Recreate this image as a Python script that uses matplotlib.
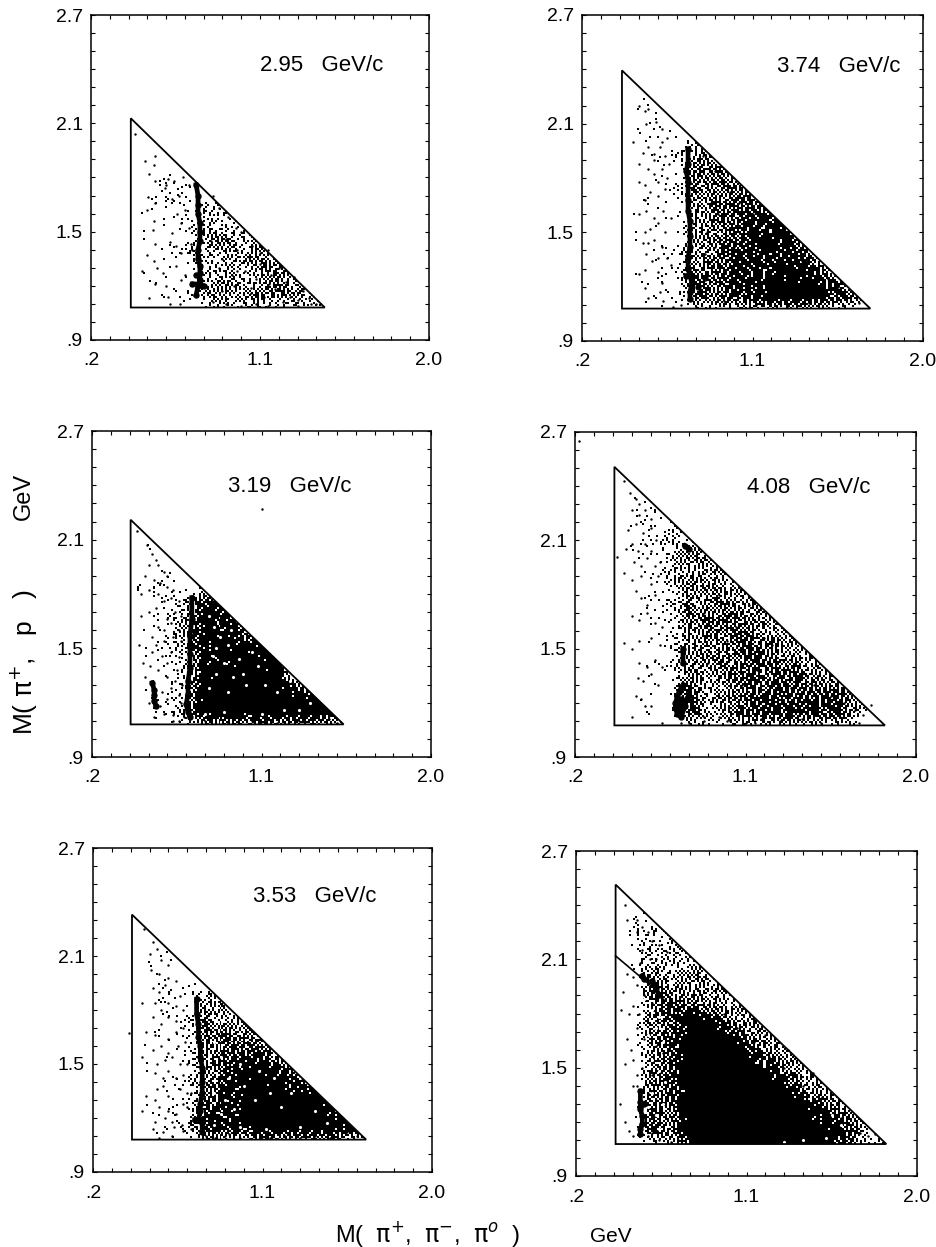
import numpy as np
import matplotlib
matplotlib.use('Agg')
import matplotlib.pyplot as plt
from matplotlib.patches import Polygon

plt.rcParams['font.family'] = ['Liberation Sans', 'DejaVu Sans']
plt.rcParams['mathtext.fontset'] = 'dejavusans'

W, H = 936, 1247
nan = float('nan')

# density maps read by eye, 0 empty to 9 solid black
# columns are x = 0.4 ... 1.9, rows run from y = 2.55 down to 1.15, last row y = 1.07
density_x = [0.4, 0.5, 0.6, 0.7, 0.8, 0.9, 1.0, 1.1, 1.2, 1.3, 1.4, 1.5, 1.6, 1.7, 1.8, 1.9]
density_y = [2.55, 2.45, 2.35, 2.25, 2.15, 2.05, 1.95, 1.85, 1.75, 1.65, 1.55, 1.45, 1.35, 1.25, 1.15, 1.07]

density_295 = ["0000000000000000", "0000000000000000", "0000000000000000", "0000000000000000",
               "0000000000000000", "0000000000000000", "0000000000000000", "0110000000000000",
               "0121100000000000", "0122330000000000", "0112333000000000", "0112353510000000",
               "0112334541000000", "0111343453300000", "0112454554410000", "0001223222220000"]
density_374 = ["0000000000000000", "0000000000000000", "0000000000000000", "0100000000000000",
               "0110000000000000", "0121100000000000", "0112440000000000", "0112655000000000",
               "0112565500000000", "0111456662000000", "0111456777300000", "0111446787330000",
               "0112457778633000", "0112657788863000", "0112657799986410", "0011323333332100"]
density_319 = ["0000000000000000", "0000000000000000", "0000000000000000", "0000000000000000",
               "0000000000000000", "0100000000000000", "0110000000000000", "0222200000000000",
               "0123770000000000", "0124877000000000", "0124887700000000", "0123889880000000",
               "0113898980000000", "0113999998800000", "0125999999962000", "0012444444430000"]
density_408 = ["0000000000000000", "0000000000000000", "0110000000000000", "0122000000000000",
               "0122220000000000", "0123444000000000", "0113444400000000", "0113544440000000",
               "0022555444000000", "0012556544400000", "0012455654440000", "0012445665444000",
               "0011545666644400", "0011734666666441", "0111735677777410", "0001222333333210"]
density_353 = ["0000000000000000", "0000000000000000", "0000000000000000", "0000000000000000",
               "0011000000000000", "0110000000000000", "0121100000000000", "0122440000000000",
               "0112544000000000", "0112565500000000", "0112467655000000", "0112468876000000",
               "0112578998760000", "0112678999976000", "0113878999997200", "0012433444443210"]
density_mix = ["0000000000000000", "0000000000000000", "0110000000000000", "0233000000000000",
               "0233300000000000", "0243440000000000", "0064444000000000", "0056644400000000",
               "0155995444000000", "0056999644400000", "0056999964440000", "0056999996444000",
               "0056999999644400", "0065999999975440", "0165999999998510", "0023699999986431"]

# share of ink for each density step
ink_levels = [0, 0.03, 0.10, 0.25, 0.42, 0.58, 0.72, 0.85, 0.95, 1]

# scrambled threshold tile used to print the density as black and white specks
speck_tile = [[23, 7, 41, 15, 33, 2, 47],
              [36, 12, 28, 49, 10, 26, 18],
              [4, 44, 19, 6, 38, 21, 31],
              [30, 16, 35, 24, 45, 13, 40],
              [48, 9, 1, 42, 17, 29, 5],
              [20, 37, 27, 11, 34, 8, 43],
              [14, 25, 46, 3, 22, 39, 32]]
# shifts that stop the tile from lining up
column_shifts = [0, 3, 5, 1, 6, 2, 4, 6, 1, 3, 0, 5, 2]
row_shifts = [0, 17, 5, 29, 11, 40, 23, 8, 34, 14, 46, 2, 27, 19, 37, 9, 31, 44, 6, 21, 38, 12, 25, 42, 3, 16, 33]

# vertices: left edge, bottom edge, apex height, right tip
tri_295 = [0.412, 1.08, 2.128, 1.445]
tri_374 = [0.411, 1.079, 2.394, 1.722]
tri_319 = [0.405, 1.08, 2.21, 1.536]
tri_408 = [0.408, 1.075, 2.507, 1.836]
tri_353 = [0.407, 1.08, 2.33, 1.65]
tri_mix = [0.409, 1.077, 2.514, 1.838]

# heavy vertical band and clumps, nan breaks the line
band_295_x = [.76, .77, .77, .77, .78, .78, .78, .77, .77, .78, .78, .78, .77, .76, nan, .74, .78, .80, nan, .76]
band_295_y = [1.76, 1.70, 1.65, 1.60, 1.55, 1.50, 1.45, 1.40, 1.35, 1.31, 1.27, 1.23, 1.20, 1.15, nan, 1.21, 1.21, 1.20, nan, 1.26]
band_374_x = [.76, .76, .75, .76, .76, .76, .77, .77, .77, .76, .76, .77, .78, .77, .77, nan, .75, .78, nan, .85, nan, .81]
band_374_y = [1.96, 1.88, 1.84, 1.78, 1.68, 1.62, 1.56, 1.48, 1.42, 1.36, 1.30, 1.26, 1.22, 1.17, 1.13, nan, 1.26, 1.26, nan, 1.25, nan, 1.20]
band_319_x = [.52, .53, .53, .53, .54, nan, .73, .73, .72, .72, .72, .71, .71, .70, .71, .72]
band_319_y = [1.31, 1.27, 1.24, 1.21, 1.18, nan, 1.78, 1.66, 1.57, 1.47, 1.39, 1.32, 1.25, 1.19, 1.15, 1.12]
band_408_x = [.77, .76, .75, .74, .73, .73, .74, .76, .78, .76, .75, .80, nan, .77, .77, nan, .78, .80]
band_408_y = [1.30, 1.28, 1.26, 1.23, 1.20, 1.17, 1.14, 1.12, 1.18, 1.22, 1.16, 1.24, nan, 1.42, 1.50, nan, 2.07, 2.05]
band_353_x = [.75, .75, .76, .76, .77, .77, .78, .78, .78, .77, .77, .76, .78, .78, nan, .74, .78]
band_353_y = [1.86, 1.78, 1.72, 1.65, 1.60, 1.54, 1.48, 1.40, 1.34, 1.28, 1.24, 1.19, 1.17, 1.12, nan, 1.19, 1.19]
band_mix_x = [.54, .54, .54, .55, .55, .54, .54, nan, .60, .62, .64, nan, .55, .56, nan, .54, .56]
band_mix_y = [1.37, 1.31, 1.27, 1.23, 1.19, 1.16, 1.13, nan, 1.98, 1.94, 1.90, nan, 2.01, 1.99, nan, 1.28, 1.30]

# single events in the thin parts of each plot
dots_295_x = [.435, .54, .49, .535, .51, .54, .595, .61, .64, .69, .72, .505, .50, .54, .535, .53, .54, .50, .535, .47,
              .55, .585, .54, .51, .60, .61, .62, .675, .63, .66, .68, .63, .655, .62, .68, .73, .655, .68, .60, .67,
              .70, .72, .74, .70, .85, .88, .93, .97, 1.00, 1.06, .86, .92, .98, 1.04, 1.10, 1.14, 1.20, .88, .95,
              1.02, 1.08, 1.16, 1.24, 1.28, 1.33, 1.36, 1.40, .90, .96, 1.05, 1.12, 1.18, 1.26, 1.30, .85, .92, 1.00,
              1.08, 1.14, 1.22, 1.30, 1.37, .84, .90, 1.10, 1.15, 1.05, .98]
dots_295_y = [2.04, 1.92, 1.89, 1.87, 1.82, 1.78, 1.74, 1.79, 1.78, 1.80, 1.76, 1.69, 1.62, 1.66, 1.56, 1.51, 1.43, 1.37, 1.34, 1.28,
              1.30, 1.27, 1.21, 1.13, 1.20, 1.14, 1.10, 1.10, 1.68, 1.60, 1.55, 1.49, 1.42, 1.44, 1.38, 1.43, 1.31, 1.23, 1.76, 1.70,
              1.62, 1.52, 1.40, 1.26, 1.70, 1.63, 1.58, 1.52, 1.50, 1.42, 1.50, 1.46, 1.40, 1.36, 1.38, 1.40, 1.30, 1.30, 1.26,
              1.28, 1.24, 1.26, 1.22, 1.25, 1.17, 1.13, 1.10, 1.17, 1.20, 1.16, 1.14, 1.18, 1.14, 1.12, 1.11, 1.10, 1.09,
              1.10, 1.09, 1.11, 1.09, 1.10, 1.45, 1.35, 1.32, 1.21, 1.19, 1.28]
dots_374_x = [.50, .53, .55, .54, .59, .62, .62, .65, .47, .52, .55, .58, .61, .64, .50, .55, .58, .62, .66, .50,
              .53, .58, .60, .65, .53, .56, .60, .64, .50, .54, .58, .63, .67, .53, .56, .60, .64, .55, .58, .62,
              .52, .54, .57, .60, .65, .67, .50, .53, .60, .62, .53, .55, .61, .63, .84, .90, .95, .88, .92, .98,
              1.03, 1.10, 1.17, 1.22, .90, .98, 1.05, .85, .90, 1.00, .86, .93, 1.20, 1.30, 1.36, 1.44, 1.50, 1.55,
              1.62, 1.66, 1.58, 1.40, 1.28, 1.12, .95, .80, .72, .68]
dots_374_y = [2.20, 2.17, 2.18, 2.10, 2.11, 2.07, 2.00, 2.02, 2.00, 1.94, 1.97, 1.93, 1.97, 1.92, 1.88, 1.85, 1.90, 1.85, 1.88, 1.78,
              1.76, 1.82, 1.78, 1.80, 1.68, 1.72, 1.70, 1.74, 1.60, 1.62, 1.58, 1.62, 1.58, 1.50, 1.52, 1.55, 1.50, 1.44, 1.46, 1.42,
              1.44, 1.38, 1.34, 1.36, 1.36, 1.32, 1.27, 1.29, 1.28, 1.22, 1.19, 1.14, 1.17, 1.12, 1.92, 1.84, 1.78, 1.66, 1.60, 1.72,
              1.66, 1.60, 1.58, 1.52, 1.42, 1.36, 1.30, 1.38, 1.28, 1.42, 1.50, 1.46, 1.42, 1.40, 1.34, 1.28, 1.24, 1.20,
              1.15, 1.11, 1.10, 1.11, 1.09, 1.10, 1.12, 1.09, 1.10, 1.09]
dots_319_x = [.44, .49, .52, .54, .50, .55, .58, .60, .48, .53, .56, .60, .63, .46, .50, .55, .58, .62, .66, .46,
              .50, .54, .60, .64, .67, .55, .58, .62, .66, .52, .54, .58, .63, .67, .45, .52, .57, .62, .66, .47,
              .51, .55, .60, .65, .48, .52, .60, .64, .68, .57, .62, .66, .50, .56, .60, .67, .53, .58, .63, 1.10,
              .69, .66, .63, 1.38, 1.42, 1.46, 1.50, .80, .92, 1.05, 1.18, 1.30]
dots_319_y = [2.15, 2.07, 2.02, 1.99, 1.96, 1.96, 1.92, 1.90, 1.90, 1.88, 1.86, 1.84, 1.82, 1.80, 1.82, 1.80, 1.76, 1.78, 1.76, 1.68,
              1.70, 1.72, 1.66, 1.70, 1.68, 1.62, 1.60, 1.64, 1.60, 1.56, 1.52, 1.54, 1.56, 1.54, 1.52, 1.48, 1.46, 1.48, 1.45, 1.42,
              1.40, 1.38, 1.42, 1.38, 1.34, 1.30, 1.34, 1.32, 1.30, 1.26, 1.28, 1.24, 1.20, 1.18, 1.22, 1.20, 1.12, 1.14, 1.13, 2.27,
              1.12, 1.10, 1.10, 1.17, 1.14, 1.11, 1.09, 1.10, 1.09, 1.10, 1.09, 1.10]
dots_408_x = [.22, .46, .49, .52, .54, .50, .54, .57, .60, .48, .52, .56, .60, .47, .50, .53, .57, .60, .63, .42,
              .51, .55, .58, .62, .65, .46, .50, .55, .60, .64, .52, .55, .58, .62, .50, .54, .58, .62, .66, .46,
              .50, .54, .60, .65, .54, .58, .62, .66, .53, .56, .60, .64, .52, .55, .60, .50, .57, .66, .80, .88,
              .96, 1.02, 1.10, 1.18, .90, 1.00, 1.08, 1.16, 1.24, 1.30, 1.40, .88, .96, 1.05, 1.12, 1.20, 1.34, 1.46,
              1.55, 1.62, 1.68, 1.72, 1.76, 1.70, 1.60, 1.50, 1.40, 1.28, 1.15, 1.00, .88, .76]
dots_408_y = [2.65, 2.43, 2.36, 2.33, 2.30, 2.27, 2.24, 2.27, 2.22, 2.16, 2.19, 2.14, 2.17, 2.05, 2.08, 2.04, 2.08, 2.04, 2.10, 2.01,
              1.98, 1.96, 2.00, 1.96, 1.98, 1.92, 1.88, 1.90, 1.86, 1.90, 1.82, 1.78, 1.74, 1.80, 1.68, 1.66, 1.70, 1.64, 1.62, 1.53,
              1.50, 1.54, 1.56, 1.52, 1.42, 1.40, 1.44, 1.40, 1.34, 1.32, 1.36, 1.30, 1.24, 1.22, 1.18, 1.12, 1.18, 1.09, 1.09, 1.10,
              1.12, 1.10, 1.09, 1.11, 1.42, 1.54, 1.30, 1.38, 1.52, 1.44, 1.36, 1.70, 1.80, 1.62, 1.74, 1.56, 1.28, 1.30,
              1.24, 1.20, 1.16, 1.13, 1.19, 1.09, 1.12, 1.09, 1.11, 1.10, 1.09, 1.10, 1.12, 1.09]
dots_353_x = [.47, .52, .54, .50, .56, .60, .51, .55, .60, .64, .52, .55, .58, .66, .46, .53, .56, .60, .64, .68,
              .52, .56, .60, .64, .68, .48, .53, .60, .64, .69, .52, .56, .60, .65, .54, .58, .62, .66, .70, .46,
              .53, .57, .60, .64, .68, .54, .57, .66, .70, .48, .53, .60, .68, .72, .46, .55, .60, .64, .70, .53,
              .58, .62, .67, .52, .57, .63, .68, .72, .55, .62, .39, .90, .98, 1.05, 1.14, 1.22, 1.30, 1.38, 1.46, 1.55,
              1.60, .80, .85, .92]
dots_353_y = [2.25, 2.18, 2.14, 2.11, 2.08, 2.05, 2.02, 2.00, 1.98, 1.96, 1.92, 1.90, 1.94, 1.88, 1.84, 1.84, 1.80, 1.84, 1.82, 1.80,
              1.76, 1.72, 1.76, 1.74, 1.70, 1.68, 1.66, 1.64, 1.68, 1.62, 1.58, 1.60, 1.56, 1.60, 1.50, 1.52, 1.54, 1.50, 1.50, 1.54,
              1.45, 1.42, 1.46, 1.42, 1.44, 1.36, 1.38, 1.36, 1.34, 1.32, 1.30, 1.32, 1.28, 1.34, 1.24, 1.26, 1.24, 1.22, 1.26, 1.18,
              1.20, 1.18, 1.16, 1.14, 1.12, 1.15, 1.13, 1.14, 1.09, 1.10, 1.67, 1.10, 1.09, 1.11, 1.09, 1.10, 1.09, 1.10, 1.09, 1.12,
              1.10, 1.10, 1.09, 1.11]
dots_mix_x = [.46, .47, .52, .52, .55, .58, .60, .64, .68, .55, .59, .62, .47, .50, .52, .45, .44, .48, .50, .53,
              .47, .49, .46, .52, .50, .58, .64, .70, .74, .52, .56, .62, .66, .70, .50, .55, .60, .52, .58, .62,
              .50, .55, .60, .54, .58, .62, .56, .60, .62, .66, .90, .98, 1.05, 1.14, 1.22, 1.30, 1.40, 1.50, 1.60, 1.70,
              1.74, 1.78, 1.20, 1.32, 1.45, .46, .48, .43]
dots_mix_y = [2.40, 2.32, 2.32, 2.25, 2.28, 2.25, 2.20, 2.18, 2.14, 2.15, 2.10, 2.05, 2.02, 2.00, 1.96, 1.92, 1.82, 1.80, 1.84, 1.80,
              1.66, 1.60, 1.52, 1.46, 1.40, 1.12, 1.10, 1.09, 1.10, 1.72, 1.66, 1.62, 1.58, 1.54, 1.54, 1.50, 1.46, 1.40, 1.36, 1.32,
              1.12, 1.18, 1.14, 2.08, 2.00, 2.10, 1.90, 1.86, 1.94, 1.88, 1.85, 1.80, 1.72, 1.64, 1.56, 1.50, 1.40, 1.34, 1.22, 1.14,
              1.12, 1.13, 1.68, 1.60, 1.47, 1.20, 1.15, 1.30]

# openings in the solid parts
gaps_319_x = [.82, .85, .88, .92, .84, .90, .98, .86, .95, 1.02, 1.08, .82, .92, 1.00, 1.12, .86, .94, 1.05, 1.18, 1.25, 1.36, 1.30, .80, .90, 1.10, 1.22]
gaps_319_y = [1.68, 1.62, 1.56, 1.52, 1.46, 1.42, 1.44, 1.36, 1.34, 1.30, 1.40, 1.28, 1.26, 1.36, 1.30, 1.50, 1.60, 1.48, 1.26, 1.32, 1.20, 1.16, 1.14, 1.15, 1.14, 1.16]
gaps_353_x = [.84, .88, .92, .98, .84, .90, 1.00, 1.08, 1.16, 1.06, 1.14, 1.25, .88, .95, 1.20, 1.30, 1.38, .84, .98, 1.12, 1.30, 1.44]
gaps_353_y = [1.62, 1.54, 1.42, 1.50, 1.34, 1.30, 1.38, 1.46, 1.42, 1.30, 1.34, 1.34, 1.22, 1.25, 1.26, 1.42, 1.24, 1.16, 1.15, 1.14, 1.15, 1.17]
gaps_mix_x = [.56, .60, .64, .58, .62, .66, .60, .64, .67, .60, .66, .58, .62, .64, 1.55, 1.60, 1.52, 1.40, 1.30]
gaps_mix_y = [1.88, 1.82, 1.78, 1.68, 1.72, 1.64, 1.54, 1.48, 1.42, 1.36, 1.30, 1.28, 1.24, 1.16, 1.24, 1.18, 1.11, 1.10, 1.09]

panels = [
    ('2.95   GeV/c', 1.427, 2.42, density_295, tri_295, band_295_x, band_295_y, dots_295_x, dots_295_y, [], []),
    ('3.74   GeV/c', 1.557, 2.416, density_374, tri_374, band_374_x, band_374_y, dots_374_x, dots_374_y, [], []),
    ('3.19   GeV/c', 1.249, 2.396, density_319, tri_319, band_319_x, band_319_y, dots_319_x, dots_319_y, gaps_319_x, gaps_319_y),
    ('4.08   GeV/c', 1.435, 2.39, density_408, tri_408, band_408_x, band_408_y, dots_408_x, dots_408_y, [], []),
    ('3.53   GeV/c', 1.38, 2.43, density_353, tri_353, band_353_x, band_353_y, dots_353_x, dots_353_y, gaps_353_x, gaps_353_y),
    ('', 0, 0, density_mix, tri_mix, band_mix_x, band_mix_y, dots_mix_x, dots_mix_y, gaps_mix_x, gaps_mix_y),
]

# axes boxes in pixels: left, right, top, bottom
boxes = [(91, 429, 15, 340), (582, 923, 15, 341),
         (92, 431, 431, 757), (575, 916, 432, 757),
         (93, 432, 848, 1172), (576, 917, 851, 1176)]


def speckle(dens):
    # spread the map over a 2 pixel mesh and print it through the tile
    grid = np.array([[int(c) for c in row] for row in dens], dtype=float)
    xf = np.arange(0.4, 1.9, 0.0106)
    yf = np.arange(1.07, 2.55, 0.0111)
    rows = np.array([np.interp(xf, density_x, r) for r in grid])
    fine = np.array([np.interp(yf, density_y[::-1], rows[::-1, j]) for j in range(len(xf))]).T
    t = np.array(speck_tile) / 50
    wide = np.hstack([np.roll(t, s, axis=0) for s in column_shifts])
    big = np.vstack([np.roll(wide[i % 7], s) for i, s in enumerate(row_shifts * 6)])
    thresh = np.tile(big, (1, len(xf) // big.shape[1] + 1))[:len(yf), :len(xf)]
    return xf, yf, (np.interp(fine, range(10), ink_levels) > thresh).astype(float)


fig = plt.figure(figsize=(W / 100, H / 100), dpi=100)

for (label, lx, ly, dens, tri, bx, by, dx, dy, gx, gy), box in zip(panels, boxes):
    ax = fig.add_axes([box[0] / W, 1 - box[3] / H, (box[1] - box[0]) / W, (box[3] - box[2]) / H])
    left, bottom, apex, tip = tri
    verts = [(left, apex), (tip, bottom), (left, bottom)]

    xf, yf, ink = speckle(dens)
    mesh = ax.pcolormesh(xf, yf, ink, cmap='gray_r', vmin=0, vmax=1, shading='nearest', zorder=1)
    clip = Polygon(verts, closed=True, transform=ax.transData, fc='none', ec='none')
    ax.add_patch(clip)
    mesh.set_clip_path(clip)

    ax.scatter(dx, dy, s=3, c='black', linewidths=0, zorder=2)
    ax.plot(bx, by, '-o', color='black', lw=3.4, ms=4.6, mew=0, zorder=3)
    if gx:
        ax.scatter(gx, gy, s=5, c='white', linewidths=0, zorder=4)
    ax.add_patch(Polygon(verts, closed=True, fc='none', ec='black', lw=1.3, joinstyle='miter', zorder=5))

    if label:
        ax.text(lx, ly, label, ha='center', va='center', fontsize=16)

    ax.set_xlim(0.2, 2.0)
    ax.set_ylim(0.9, 2.7)
    xt = np.arange(2, 21) / 10
    yt = np.arange(9, 28) / 10
    ax.set_xticks(xt)
    ax.set_yticks(yt)
    ax.set_xticklabels(['.2' if abs(v - .2) < .01 else '1.1' if abs(v - 1.1) < .01 else '2.0' if abs(v - 2) < .01 else '' for v in xt], fontsize=14)
    ax.set_yticklabels(['.9' if abs(v - .9) < .01 else '1.5' if abs(v - 1.5) < .01 else '2.1' if abs(v - 2.1) < .01 else '2.7' if abs(v - 2.7) < .01 else '' for v in yt], fontsize=14)
    ax.tick_params(axis='x', direction='in', top=True, length=3, width=0.8, pad=9)
    ax.tick_params(axis='y', direction='in', right=True, length=3, width=0.8, pad=6)
    for s in ax.spines.values():
        s.set_linewidth(1.1)

# the bottom panel, second boundary of the lower energy data
ax.plot([0.409, 0.60], [2.119, 1.95], color='black', lw=1.2, zorder=5)

fig.text(24 / W, 1 - 735 / H, 'M( $\\mathrm{\\pi}^{+}$,   p   )', rotation=90, ha='center', va='bottom', fontsize=19)
fig.text(24 / W, 1 - 473 / H, 'GeV', rotation=90, ha='center', va='top', fontsize=17)
fig.text(335 / W, 1 - 1242 / H, 'M(  $\\mathrm{\\pi}^{+}$,  $\\mathrm{\\pi}^{-}$,  $\\mathrm{\\pi}^{o}$  )', ha='left', va='baseline', fontsize=17)
fig.text(590 / W, 1 - 1242 / H, 'GeV', ha='left', va='baseline', fontsize=15)

fig.savefig('out.png', dpi=100)
